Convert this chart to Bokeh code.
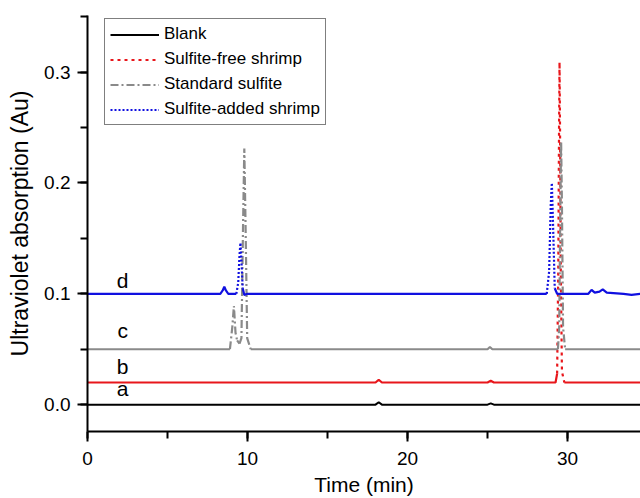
from bokeh.plotting import figure
from bokeh.models import Range1d, SingleIntervalTicker, Legend, LegendItem, Label, CustomJSTickFormatter
from bokeh.embed import file_html
from bokeh.resources import INLINE

# ---- data ----
blank_t = [0, 6.0, 12.0, 18.0, 18.2, 18.4, 25.0, 25.2, 25.4, 30.0, 34.6]
blank_y = [0.0, 0.0, 0.0, 0.0, 0.0022, 0.0, 0.0, 0.0012, 0.0, 0.0, 0.0]

free_t = [0, 9.0, 18.0, 18.2, 18.4, 25.0, 25.2, 25.4, 29.25, 29.35, 29.42, 29.47, 29.5, 29.53, 29.58, 29.65, 29.8, 34.6]
free_y = [0.02, 0.02, 0.02, 0.0225, 0.02, 0.02, 0.0215, 0.02, 0.02, 0.028, 0.12, 0.25, 0.309, 0.25, 0.12, 0.03, 0.02, 0.02]

std_t = [0, 8.9, 9.05, 9.15, 9.25, 9.35, 9.5, 9.62, 9.72, 9.8, 9.88, 9.98, 10.2, 18.0, 25.0, 25.15, 25.3,
         29.4, 29.48, 29.55, 29.6, 29.65, 29.72, 29.85, 34.6]
std_y = [0.05, 0.05, 0.07, 0.089, 0.065, 0.058, 0.055, 0.06, 0.16, 0.231, 0.16, 0.06, 0.05, 0.05, 0.05, 0.052, 0.05,
         0.05, 0.07, 0.18, 0.237, 0.18, 0.07, 0.05, 0.05]

added_t = [0, 8.3, 8.45, 8.55, 8.65, 8.8, 9.3, 9.42, 9.5, 9.56, 9.62, 9.7, 9.8, 10.0, 18.0, 25.0,
           28.7, 28.85, 28.95, 29.02, 29.1, 29.2, 29.35, 31.3, 31.5, 31.7, 32.0, 32.2, 32.45, 33.5, 34.0, 34.6]
added_y = [0.1, 0.1, 0.103, 0.1065, 0.103, 0.1, 0.1, 0.11, 0.135, 0.146, 0.13, 0.105, 0.099, 0.1, 0.1, 0.1,
           0.1, 0.12, 0.18, 0.2, 0.16, 0.105, 0.1, 0.1, 0.1035, 0.101, 0.102, 0.104, 0.101, 0.1, 0.099, 0.1]

series_names = ["Blank", "Sulfite-free shrimp", "Standard sulfite", "Sulfite-added shrimp"]
trace_letters = ["a", "b", "c", "d"]
trace_baselines = [0.0, 0.02, 0.05, 0.1]
letter_time = [2.2, 2.2, 2.2, 2.2]
letter_level = [0.0045, 0.0245, 0.0563, 0.1018]

FONT = "Liberation Sans"


def split_runs(t, y, base, tol=0.008):
    """Split a trace into flat (solid-looking) and peak (dashed) runs."""
    peak = [abs(v - base) > tol for v in y]
    flat_runs, peak_runs = [], []
    i, n = 0, len(t)
    while i < n:
        j = i
        while j + 1 < n and peak[j + 1] == peak[i]:
            j += 1
        if peak[i]:
            a, b = max(i - 1, 0), min(j + 1, n - 1)
            peak_runs.append((t[a:b + 1], y[a:b + 1]))
        else:
            flat_runs.append((t[i:j + 1], y[i:j + 1]))
        i = j + 1
    return flat_runs, peak_runs


p = figure(width=640, height=498, output_backend="svg", toolbar_location=None,
           x_range=Range1d(0, 34.56), y_range=Range1d(-0.0242, 0.351),
           min_border_left=87, min_border_right=0, min_border_top=15, min_border_bottom=66,
           background_fill_color="white", border_fill_color="white")
p.outline_line_color = None
p.grid.visible = False

traces = [(blank_t, blank_y, "black", 2.0, "solid"),
          (free_t, free_y, "#e8161b", 2.2, "3 4"),
          (std_t, std_y, "#8a8a8a", 2.2, "8 3 2 3"),
          (added_t, added_y, "#1010e0", 2.2, "2 2")]

legend_renderers = []
for (tt, yy, color, lw, dash), base in zip(traces, trace_baselines):
    flat_runs, peak_runs = split_runs(tt, yy, base)
    r_flat = p.multi_line([r[0] for r in flat_runs], [r[1] for r in flat_runs],
                          line_color=color, line_width=lw)
    if dash == "solid" or not peak_runs:
        legend_renderers.append(r_flat)
        continue
    r_peak = p.multi_line([r[0] for r in peak_runs], [r[1] for r in peak_runs],
                          line_color=color, line_width=lw, line_dash=dash)
    legend_renderers.append(r_peak)

# axes
xa = p.xaxis[0]
xa.ticker = SingleIntervalTicker(interval=10, num_minor_ticks=2)
xa.axis_label = "Time (min)"
ya = p.yaxis[0]
ya.ticker = SingleIntervalTicker(interval=0.1, num_minor_ticks=2)
ya.formatter = CustomJSTickFormatter(code="return tick.toFixed(1);")
ya.axis_label = "Ultraviolet absorption (Au)"
for ax in (xa, ya):
    ax.axis_line_width = 2
    ax.axis_line_color = "black"
    ax.major_tick_line_width = 2
    ax.minor_tick_line_width = 2
    ax.major_tick_in = 0
    ax.major_tick_out = 10
    ax.minor_tick_in = 0
    ax.minor_tick_out = 7
    ax.major_label_text_font = FONT
    ax.major_label_text_font_size = "19px"
    ax.major_label_text_color = "black"
    ax.axis_label_text_font = FONT
    ax.axis_label_text_font_style = "normal"
    ax.axis_label_text_color = "black"
xa.axis_label_text_font_size = "21px"
ya.axis_label_text_font_size = "23px"
xa.major_label_standoff = 10
xa.axis_label_standoff = 5
ya.major_label_standoff = 7
ya.axis_label_standoff = 8

# trace letters
for letter, lx, ly in zip(trace_letters, letter_time, letter_level):
    p.add_layout(Label(x=lx, y=ly, text=letter, text_align="center", text_baseline="bottom",
                       text_font=FONT, text_font_size="21px", text_color="black"))

legend = Legend(items=[LegendItem(label=n, renderers=[r]) for n, r in zip(series_names, legend_renderers)],
                location=(17, 306), padding=5, spacing=5, glyph_width=49, glyph_height=17,
                label_height=17, label_standoff=5, margin=0,
                label_text_font=FONT, label_text_font_size="17px", label_text_color="black",
                border_line_color="black", border_line_width=1,
                background_fill_color="white", background_fill_alpha=1)
p.add_layout(legend)

open("out.html", "w").write(file_html(p, INLINE))
